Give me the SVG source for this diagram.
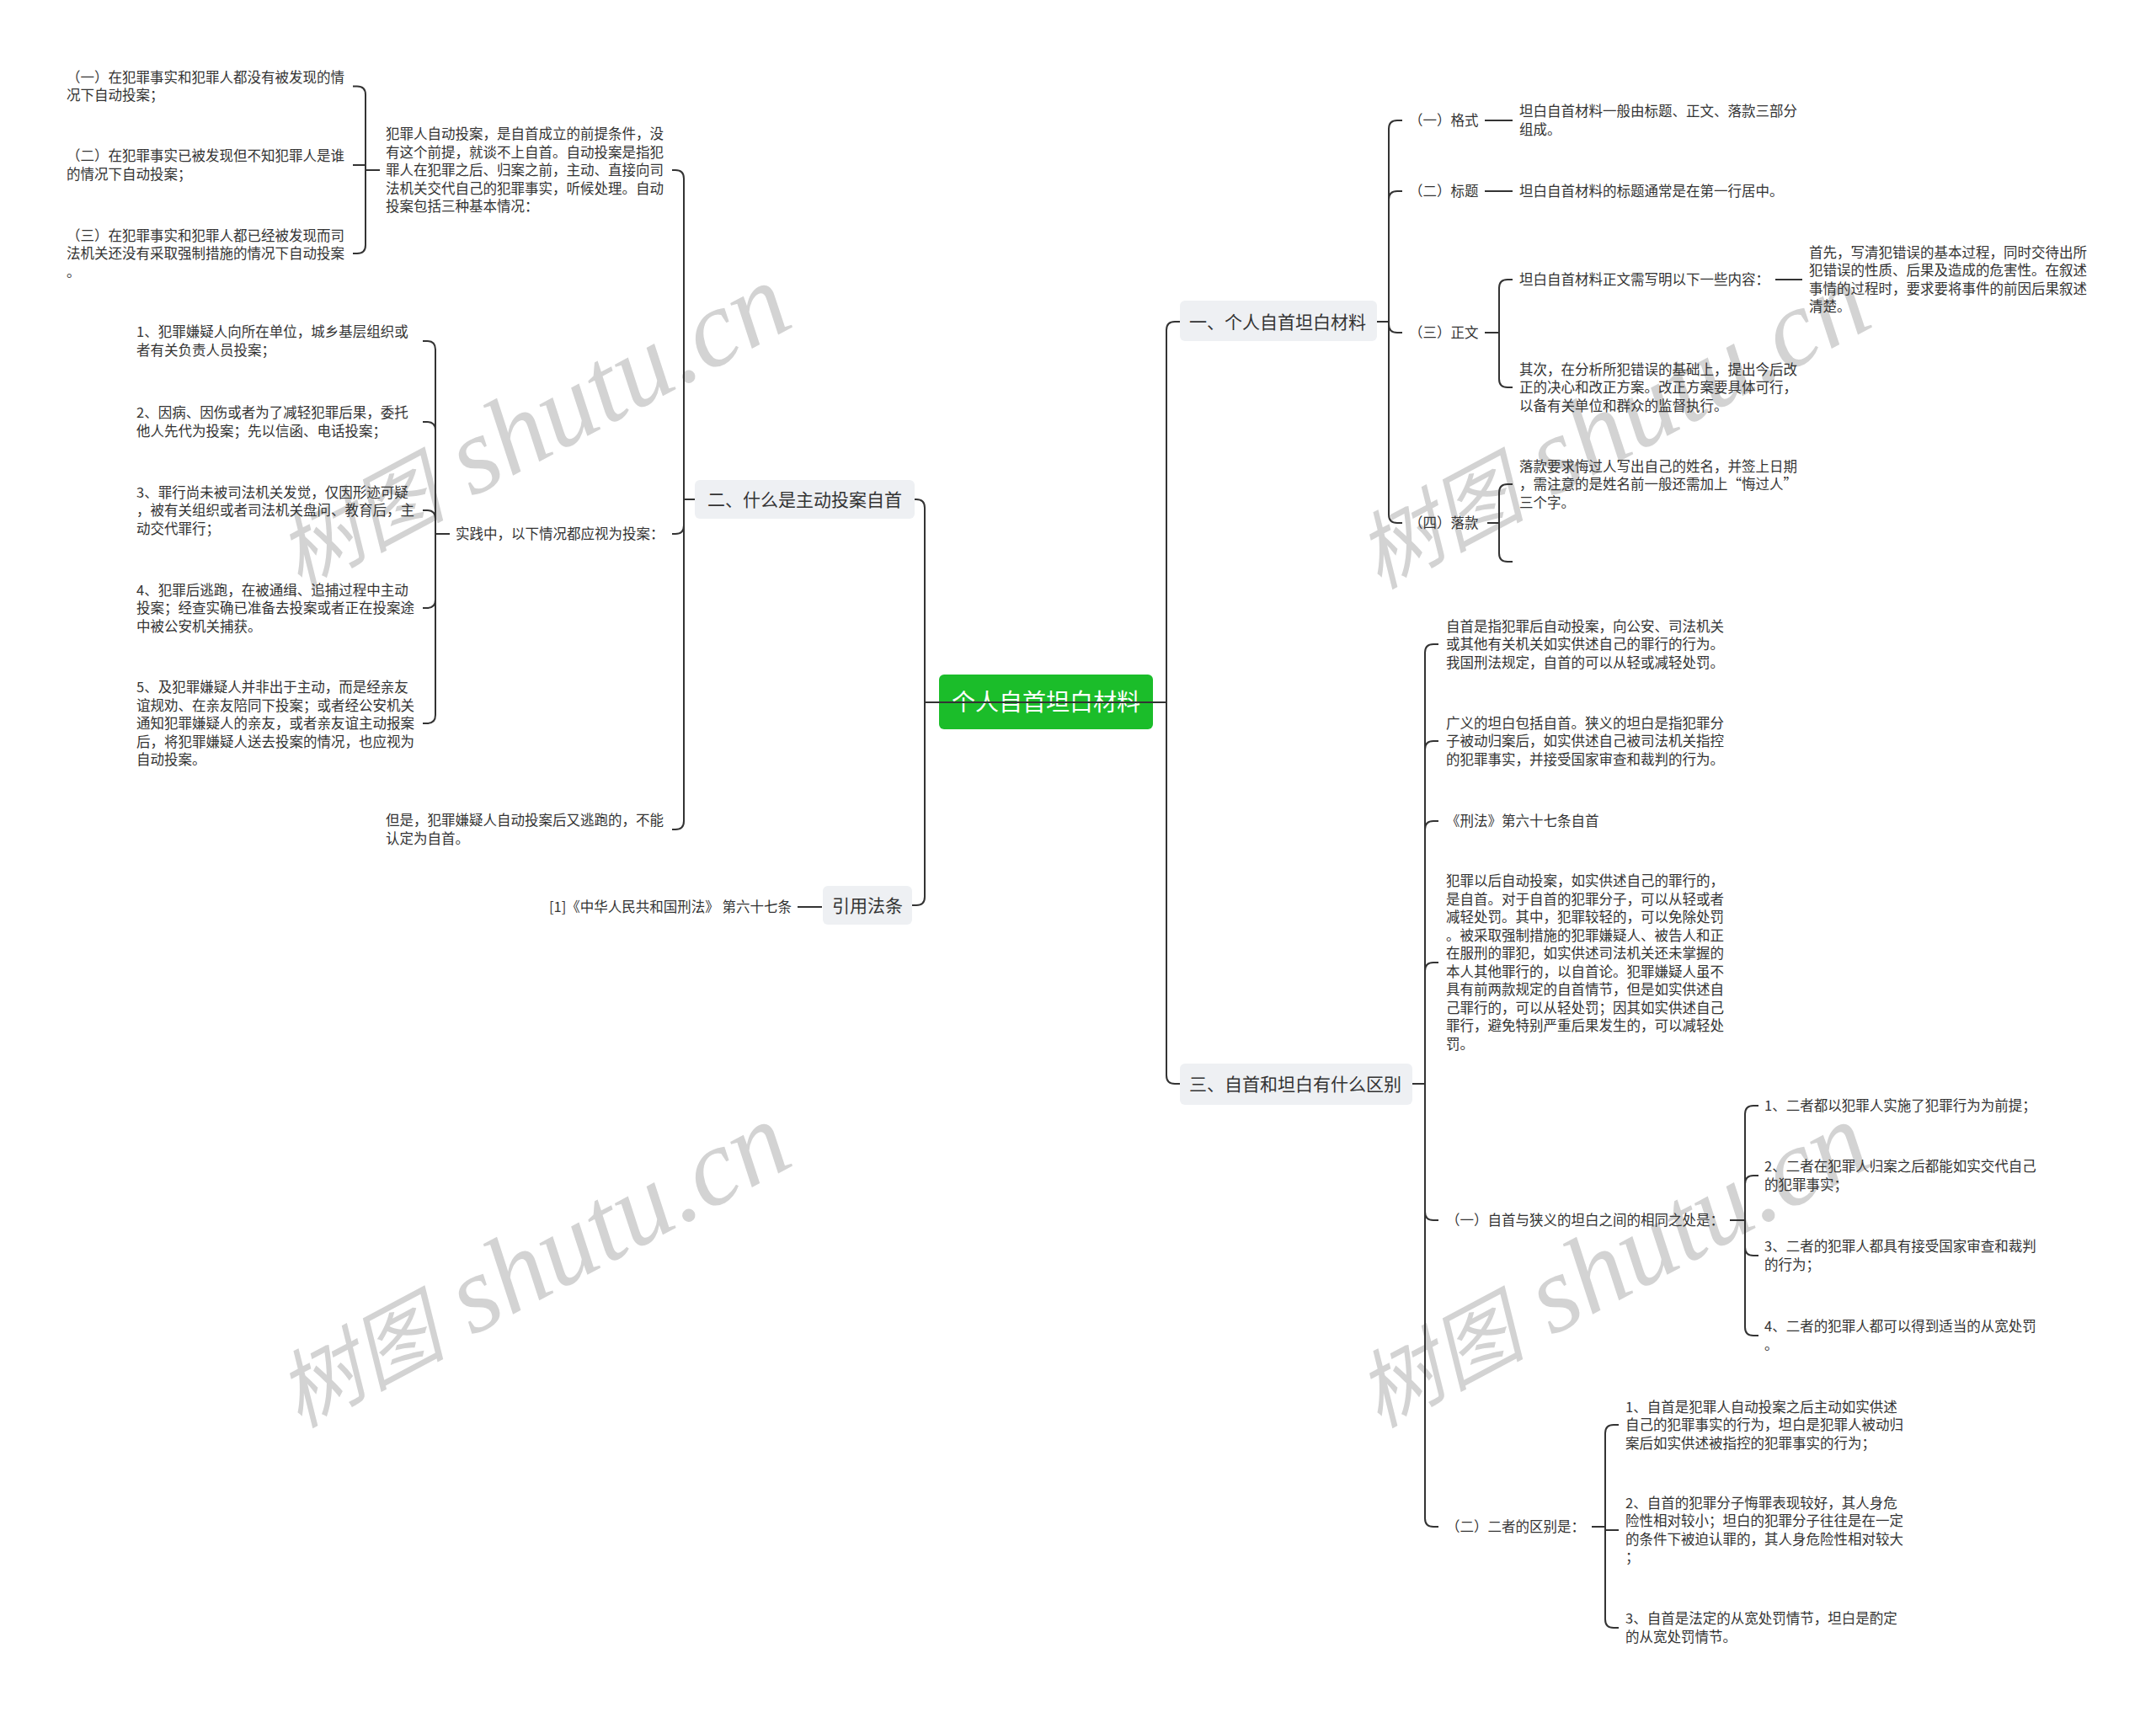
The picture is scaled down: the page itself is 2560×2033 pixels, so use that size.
<svg xmlns="http://www.w3.org/2000/svg" width="2560" height="2033" viewBox="0 0 2560 2033">
<defs>
<style>
.t{font-family:"Noto Sans CJK SC","Microsoft YaHei",sans-serif;font-size:16.5px;fill:#333333;}
.n{font-family:"Noto Sans CJK SC","Microsoft YaHei",sans-serif;font-size:21px;fill:#333333;}
.root{font-family:"Noto Sans CJK SC","Microsoft YaHei",sans-serif;font-size:28px;fill:#ffffff;}
.box{fill:#eef0f3;}
.wm{font-family:"Liberation Serif","Noto Sans CJK SC",serif;font-style:italic;fill:#d3d3d3;}
.c path{fill:none;stroke:#333333;stroke-width:2;}
</style>
</defs>
<rect width="2560" height="2033" fill="#ffffff"/>
<g id="watermarks">
<text class="wm" transform="translate(355,700) rotate(-28)"><tspan font-size="100">树图</tspan><tspan font-size="130"> shutu.cn</tspan></text>
<text class="wm" transform="translate(1637,700) rotate(-28)"><tspan font-size="100">树图</tspan><tspan font-size="130"> shutu.cn</tspan></text>
<text class="wm" transform="translate(355,1696) rotate(-28)"><tspan font-size="100">树图</tspan><tspan font-size="130"> shutu.cn</tspan></text>
<text class="wm" transform="translate(1637,1696) rotate(-28)"><tspan font-size="100">树图</tspan><tspan font-size="130"> shutu.cn</tspan></text>
</g>
<g id="root">
<rect x="1115" y="801" width="254" height="65" rx="6" fill="#1bbd2a"/>
<text class="root" x="1242" y="844" text-anchor="middle">个人自首坦白材料</text>
</g>
<g id="n2">
<rect class="box" x="825" y="570" width="261" height="46" rx="6"/>
<text class="n" x="840" y="601">二、什么是主动投案自首</text>
</g>
<g id="n2-b">
<text class="t" x="458" y="165"><tspan x="458">犯罪人自动投案，是自首成立的前提条件，没</tspan><tspan x="458" dy="21.5">有这个前提，就谈不上自首。自动投案是指犯</tspan><tspan x="458" dy="21.5">罪人在犯罪之后、归案之前，主动、直接向司</tspan><tspan x="458" dy="21.5">法机关交代自己的犯罪事实，听候处理。自动</tspan><tspan x="458" dy="21.5">投案包括三种基本情况：</tspan></text>
</g>
<g id="n2-b1">
<text class="t" x="79" y="97.75"><tspan x="79">（一）在犯罪事实和犯罪人都没有被发现的情</tspan><tspan x="79" dy="21.5">况下自动投案；</tspan></text>
</g>
<g id="n2-b2">
<text class="t" x="79" y="191.25"><tspan x="79">（二）在犯罪事实已被发现但不知犯罪人是谁</tspan><tspan x="79" dy="21.5">的情况下自动投案；</tspan></text>
</g>
<g id="n2-b3">
<text class="t" x="79" y="285.5"><tspan x="79">（三）在犯罪事实和犯罪人都已经被发现而司</tspan><tspan x="79" dy="21.5">法机关还没有采取强制措施的情况下自动投案</tspan><tspan x="79" dy="21.5">。</tspan></text>
</g>
<g id="n2-c">
<text class="t" x="541" y="640">实践中，以下情况都应视为投案：</text>
</g>
<g id="n2-c1">
<text class="t" x="162" y="400.25"><tspan x="162">1、犯罪嫌疑人向所在单位，城乡基层组织或</tspan><tspan x="162" dy="21.5">者有关负责人员投案；</tspan></text>
</g>
<g id="n2-c2">
<text class="t" x="162" y="496.25"><tspan x="162">2、因病、因伤或者为了减轻犯罪后果，委托</tspan><tspan x="162" dy="21.5">他人先代为投案；先以信函、电话投案；</tspan></text>
</g>
<g id="n2-c3">
<text class="t" x="162" y="590.5"><tspan x="162">3、罪行尚未被司法机关发觉，仅因形迹可疑</tspan><tspan x="162" dy="21.5">，被有关组织或者司法机关盘问、教育后，主</tspan><tspan x="162" dy="21.5">动交代罪行；</tspan></text>
</g>
<g id="n2-c4">
<text class="t" x="162" y="706.5"><tspan x="162">4、犯罪后逃跑，在被通缉、追捕过程中主动</tspan><tspan x="162" dy="21.5">投案；经查实确已准备去投案或者正在投案途</tspan><tspan x="162" dy="21.5">中被公安机关捕获。</tspan></text>
</g>
<g id="n2-c5">
<text class="t" x="162" y="822"><tspan x="162">5、及犯罪嫌疑人并非出于主动，而是经亲友</tspan><tspan x="162" dy="21.5">谊规劝、在亲友陪同下投案；或者经公安机关</tspan><tspan x="162" dy="21.5">通知犯罪嫌疑人的亲友，或者亲友谊主动报案</tspan><tspan x="162" dy="21.5">后，将犯罪嫌疑人送去投案的情况，也应视为</tspan><tspan x="162" dy="21.5">自动投案。</tspan></text>
</g>
<g id="n2-d">
<text class="t" x="458" y="980.25"><tspan x="458">但是，犯罪嫌疑人自动投案后又逃跑的，不能</tspan><tspan x="458" dy="21.5">认定为自首。</tspan></text>
</g>
<g id="law">
<rect class="box" x="977" y="1052" width="106" height="46" rx="6"/>
<text class="n" x="1030" y="1083" text-anchor="middle">引用法条</text>
</g>
<g id="law-1">
<text class="t" x="940" y="1083" text-anchor="end">[1]《中华人民共和国刑法》 第六十七条</text>
</g>
<g id="n1">
<rect class="box" x="1401" y="357" width="234" height="48" rx="6"/>
<text class="n" x="1412" y="390">一、个人自首坦白材料</text>
</g>
<g id="n1-a"><text class="t" x="1673" y="149">（一）格式</text></g>
<g id="n1-a1">
<text class="t" x="1804" y="138.25"><tspan x="1804">坦白自首材料一般由标题、正文、落款三部分</tspan><tspan x="1804" dy="21.5">组成。</tspan></text>
</g>
<g id="n1-b"><text class="t" x="1673" y="233">（二）标题</text></g>
<g id="n1-b1"><text class="t" x="1804" y="233">坦白自首材料的标题通常是在第一行居中。</text></g>
<g id="n1-c"><text class="t" x="1673" y="401">（三）正文</text></g>
<g id="n1-c1"><text class="t" x="1804" y="338">坦白自首材料正文需写明以下一些内容：</text></g>
<g id="n1-c1a">
<text class="t" x="2148" y="305.75"><tspan x="2148">首先，写清犯错误的基本过程，同时交待出所</tspan><tspan x="2148" dy="21.5">犯错误的性质、后果及造成的危害性。在叙述</tspan><tspan x="2148" dy="21.5">事情的过程时，要求要将事件的前因后果叙述</tspan><tspan x="2148" dy="21.5">清楚。</tspan></text>
</g>
<g id="n1-c2">
<text class="t" x="1804" y="444.5"><tspan x="1804">其次，在分析所犯错误的基础上，提出今后改</tspan><tspan x="1804" dy="21.5">正的决心和改正方案。改正方案要具体可行，</tspan><tspan x="1804" dy="21.5">以备有关单位和群众的监督执行。</tspan></text>
</g>
<g id="n1-d"><text class="t" x="1673" y="627">（四）落款</text></g>
<g id="n1-d1">
<text class="t" x="1804" y="559.5"><tspan x="1804">落款要求悔过人写出自己的姓名，并签上日期</tspan><tspan x="1804" dy="21.5">，需注意的是姓名前一般还需加上“悔过人”</tspan><tspan x="1804" dy="21.5">三个字。</tspan></text>
</g>
<g id="n3">
<rect class="box" x="1401" y="1263" width="276" height="49" rx="6"/>
<text class="n" x="1412" y="1295">三、自首和坦白有什么区别</text>
</g>
<g id="n3-a">
<text class="t" x="1717" y="749.5"><tspan x="1717">自首是指犯罪后自动投案，向公安、司法机关</tspan><tspan x="1717" dy="21.5">或其他有关机关如实供述自己的罪行的行为。</tspan><tspan x="1717" dy="21.5">我国刑法规定，自首的可以从轻或减轻处罚。</tspan></text>
</g>
<g id="n3-b">
<text class="t" x="1717" y="864.5"><tspan x="1717">广义的坦白包括自首。狭义的坦白是指犯罪分</tspan><tspan x="1717" dy="21.5">子被动归案后，如实供述自己被司法机关指控</tspan><tspan x="1717" dy="21.5">的犯罪事实，并接受国家审查和裁判的行为。</tspan></text>
</g>
<g id="n3-c"><text class="t" x="1717" y="981">《刑法》第六十七条自首</text></g>
<g id="n3-d">
<text class="t" x="1717" y="1052.25"><tspan x="1717">犯罪以后自动投案，如实供述自己的罪行的，</tspan><tspan x="1717" dy="21.5">是自首。对于自首的犯罪分子，可以从轻或者</tspan><tspan x="1717" dy="21.5">减轻处罚。其中，犯罪较轻的，可以免除处罚</tspan><tspan x="1717" dy="21.5">。被采取强制措施的犯罪嫌疑人、被告人和正</tspan><tspan x="1717" dy="21.5">在服刑的罪犯，如实供述司法机关还未掌握的</tspan><tspan x="1717" dy="21.5">本人其他罪行的，以自首论。犯罪嫌疑人虽不</tspan><tspan x="1717" dy="21.5">具有前两款规定的自首情节，但是如实供述自</tspan><tspan x="1717" dy="21.5">己罪行的，可以从轻处罚；因其如实供述自己</tspan><tspan x="1717" dy="21.5">罪行，避免特别严重后果发生的，可以减轻处</tspan><tspan x="1717" dy="21.5">罚。</tspan></text>
</g>
<g id="n3-e"><text class="t" x="1717" y="1455">（一）自首与狭义的坦白之间的相同之处是：</text></g>
<g id="n3-e1"><text class="t" x="2095" y="1319">1、二者都以犯罪人实施了犯罪行为为前提；</text></g>
<g id="n3-e2">
<text class="t" x="2095" y="1391.25"><tspan x="2095">2、二者在犯罪人归案之后都能如实交代自己</tspan><tspan x="2095" dy="21.5">的犯罪事实；</tspan></text>
</g>
<g id="n3-e3">
<text class="t" x="2095" y="1486.25"><tspan x="2095">3、二者的犯罪人都具有接受国家审查和裁判</tspan><tspan x="2095" dy="21.5">的行为；</tspan></text>
</g>
<g id="n3-e4">
<text class="t" x="2095" y="1581.25"><tspan x="2095">4、二者的犯罪人都可以得到适当的从宽处罚</tspan><tspan x="2095" dy="21.5">。</tspan></text>
</g>
<g id="n3-f"><text class="t" x="1717" y="1819">（二）二者的区别是：</text></g>
<g id="n3-f1">
<text class="t" x="1930" y="1676.5"><tspan x="1930">1、自首是犯罪人自动投案之后主动如实供述</tspan><tspan x="1930" dy="21.5">自己的犯罪事实的行为，坦白是犯罪人被动归</tspan><tspan x="1930" dy="21.5">案后如实供述被指控的犯罪事实的行为；</tspan></text>
</g>
<g id="n3-f2">
<text class="t" x="1930" y="1790.75"><tspan x="1930">2、自首的犯罪分子悔罪表现较好，其人身危</tspan><tspan x="1930" dy="21.5">险性相对较小；坦白的犯罪分子往往是在一定</tspan><tspan x="1930" dy="21.5">的条件下被迫认罪的，其人身危险性相对较大</tspan><tspan x="1930" dy="21.5">；</tspan></text>
</g>
<g id="n3-f3">
<text class="t" x="1930" y="1928.25"><tspan x="1930">3、自首是法定的从宽处罚情节，坦白是酌定</tspan><tspan x="1930" dy="21.5">的从宽处罚情节。</tspan></text>
</g>
<g id="connectors" class="c">
<path d="M1098,834 L1385,834"/>
<path d="M1098,834 L1098,603 Q1098,593 1088,593 L1086,593"/>
<path d="M1098,834 L1098,1065 Q1098,1075 1088,1075 L1083,1075"/>
<path d="M1385,834 L1385,392 Q1385,382 1395,382 L1401,382"/>
<path d="M1385,834 L1385,1277 Q1385,1287 1395,1287 L1401,1287"/>
<path d="M825,593 L812,593"/>
<path d="M812,593 L812,212 Q812,202 802,202 L798,202"/>
<path d="M812,593 L812,624 Q812,634 802,634 L798,634"/>
<path d="M812,593 L812,975 Q812,985 802,985 L798,985"/>
<path d="M451,202 L434,202"/>
<path d="M434,202 L434,112.5 Q434,102.5 424,102.5 L419,102.5"/>
<path d="M434,202 L434,196 L419,196"/>
<path d="M434,202 L434,291 Q434,301 424,301 L419,301"/>
<path d="M534,634 L517,634"/>
<path d="M517,634 L517,415 Q517,405 507,405 L502,405"/>
<path d="M517,634 L517,511 Q517,501 507,501 L502,501"/>
<path d="M517,634 L517,616 Q517,606 507,606 L502,606"/>
<path d="M517,634 L517,712 Q517,722 507,722 L502,722"/>
<path d="M517,634 L517,849 Q517,859 507,859 L502,859"/>
<path d="M976,1077 L947,1077"/>
<path d="M1635,382 L1649,382"/>
<path d="M1649,382 L1649,153 Q1649,143 1659,143 L1665,143"/>
<path d="M1649,382 L1649,237 Q1649,227 1659,227 L1665,227"/>
<path d="M1649,382 L1649,385 Q1649,395 1659,395 L1665,395"/>
<path d="M1649,382 L1649,611 Q1649,621 1659,621 L1665,621"/>
<path d="M1763,143 L1796,143"/>
<path d="M1763,227 L1796,227"/>
<path d="M1763,395 L1780,395"/>
<path d="M1780,395 L1780,342 Q1780,332 1790,332 L1796,332"/>
<path d="M1780,395 L1780,450 Q1780,460 1790,460 L1796,460"/>
<path d="M2108,332 L2140,332"/>
<path d="M1766,621 L1780,621"/>
<path d="M1780,621 L1780,585 Q1780,575 1790,575 L1796,575"/>
<path d="M1780,621 L1780,657 Q1780,667 1790,667 L1796,667"/>
<path d="M1677,1287 L1692,1287"/>
<path d="M1692,1287 L1692,775 Q1692,765 1702,765 L1708,765"/>
<path d="M1692,1287 L1692,890 Q1692,880 1702,880 L1708,880"/>
<path d="M1692,1287 L1692,985 Q1692,975 1702,975 L1708,975"/>
<path d="M1692,1287 L1692,1153 Q1692,1143 1702,1143 L1708,1143"/>
<path d="M1692,1287 L1692,1439 Q1692,1449 1702,1449 L1708,1449"/>
<path d="M1692,1287 L1692,1803 Q1692,1813 1702,1813 L1708,1813"/>
<path d="M2054,1449 L2072,1449"/>
<path d="M2072,1449 L2072,1323 Q2072,1313 2082,1313 L2088,1313"/>
<path d="M2072,1449 L2072,1406 Q2072,1396 2082,1396 L2088,1396"/>
<path d="M2072,1449 L2072,1481 Q2072,1491 2082,1491 L2088,1491"/>
<path d="M2072,1449 L2072,1576 Q2072,1586 2082,1586 L2088,1586"/>
<path d="M1890,1813 L1906,1813"/>
<path d="M1906,1813 L1906,1702 Q1906,1692 1916,1692 L1922,1692"/>
<path d="M1906,1813 L1906,1817 L1922,1817"/>
<path d="M1906,1813 L1906,1923 Q1906,1933 1916,1933 L1922,1933"/>
</g>
</svg>
